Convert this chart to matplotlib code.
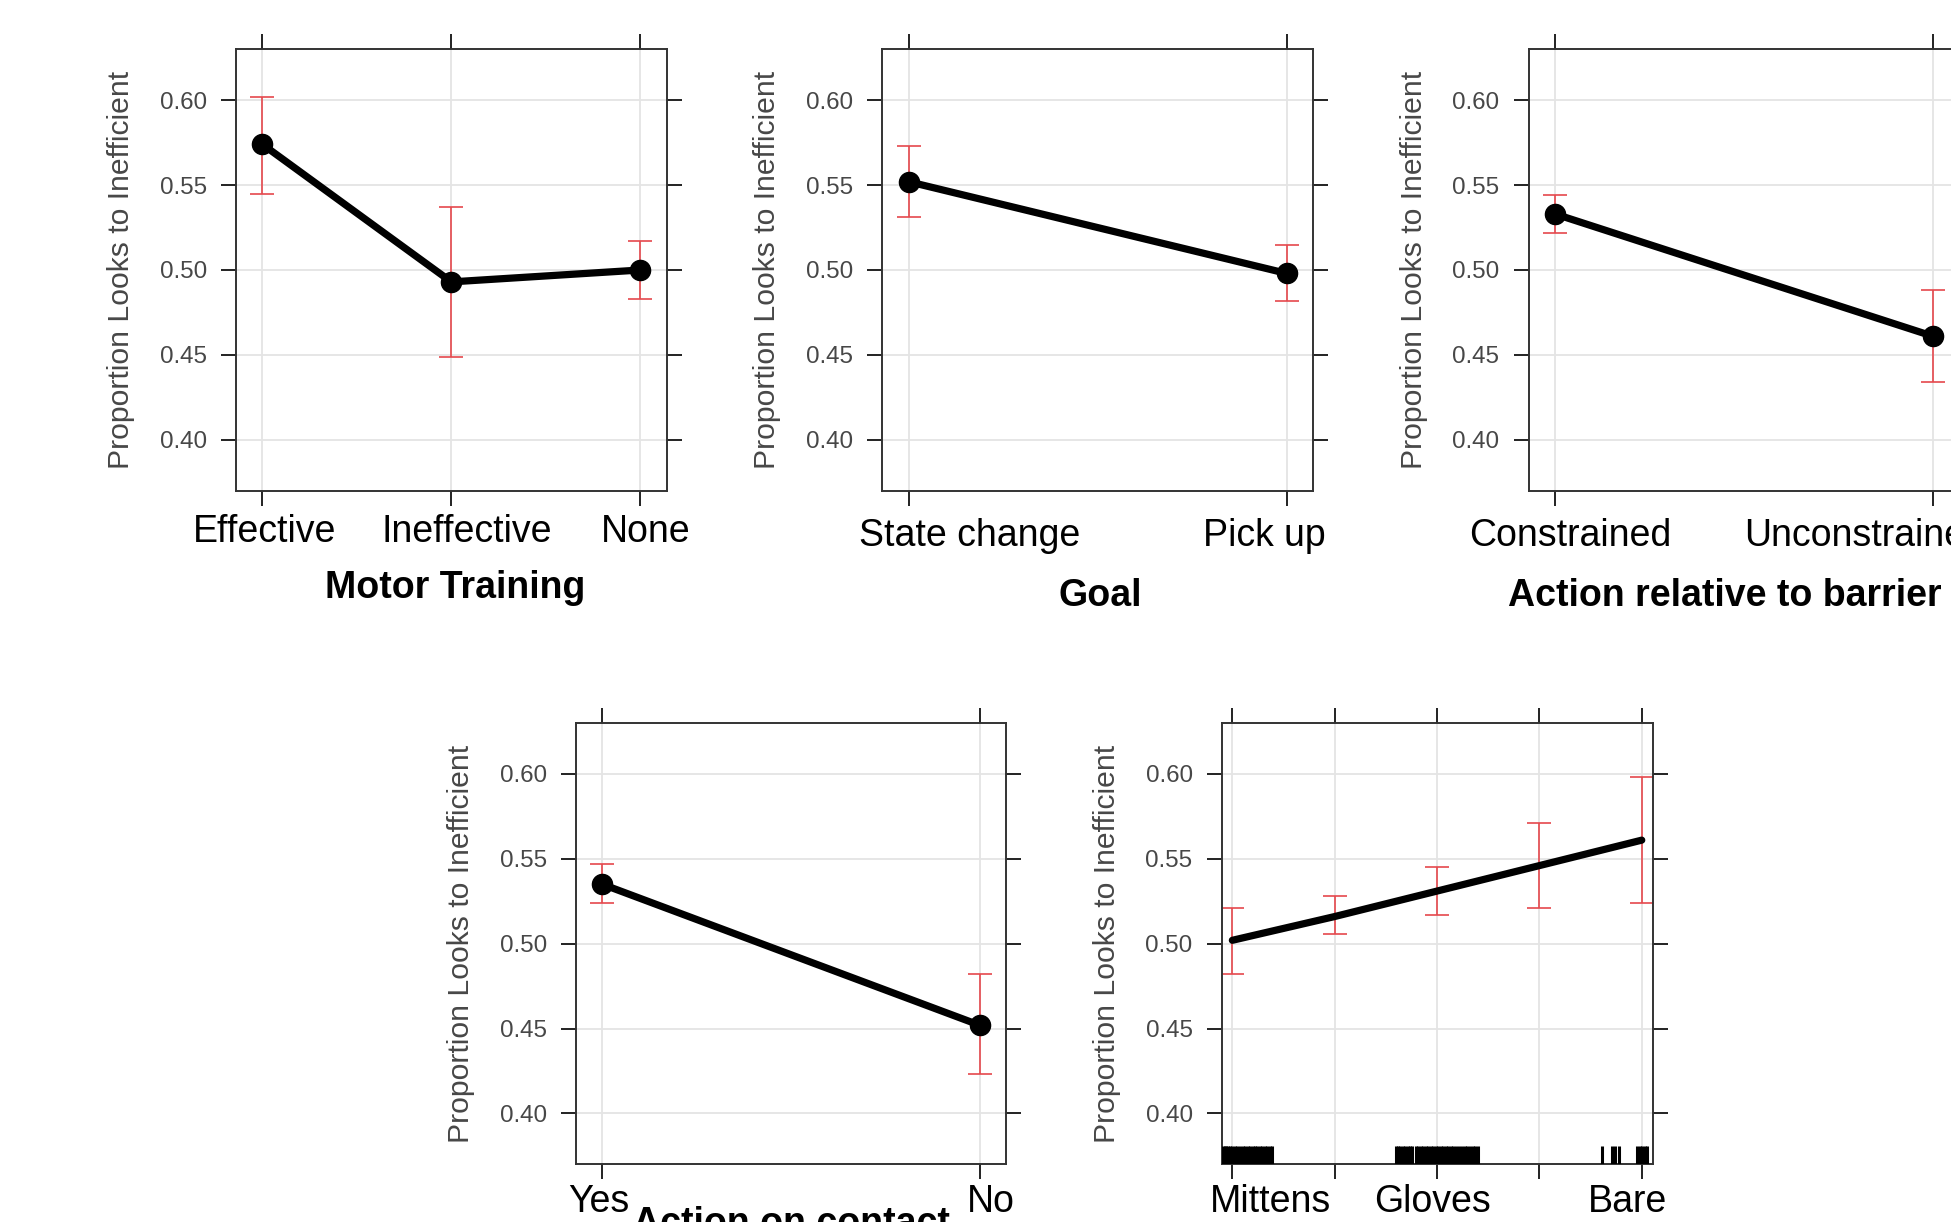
import matplotlib
matplotlib.use("Agg")
import matplotlib.pyplot as plt
from matplotlib import transforms

plt.rcParams['font.family'] = ['Liberation Sans', 'DejaVu Sans']

# ---------------- data ----------------
motor_levels = ["Effective", "Ineffective", "None"]
motor_fit = [0.574, 0.493, 0.500]
motor_lower = [0.545, 0.449, 0.483]
motor_upper = [0.602, 0.537, 0.517]

goal_levels = ["State change", "Pick up"]
goal_fit = [0.552, 0.498]
goal_lower = [0.531, 0.482]
goal_upper = [0.573, 0.515]

barrier_levels = ["Constrained", "Unconstrained"]
barrier_fit = [0.533, 0.461]
barrier_lower = [0.522, 0.434]
barrier_upper = [0.544, 0.488]

contact_levels = ["Yes", "No"]
contact_fit = [0.535, 0.452]
contact_lower = [0.524, 0.423]
contact_upper = [0.547, 0.482]

hand_x = [0, 1, 2, 3, 4]
hand_fit = [0.502, 0.516, 0.531, 0.546, 0.561]
hand_lower = [0.482, 0.506, 0.517, 0.521, 0.524]
hand_upper = [0.521, 0.528, 0.545, 0.571, 0.598]
hand_labels = ["Mittens", "Gloves", "Bare"]
hand_rug = [-0.09, -0.07, -0.06, -0.04, -0.02, 0.00, 0.03, 0.05, 0.07, 0.10,
            0.12, 0.15, 0.17, 0.20, 0.22, 0.24, 0.27, 0.29, 0.32, 0.34, 0.37, 0.39,
            1.60, 1.62, 1.64, 1.67, 1.69, 1.72, 1.74, 1.76, 1.79, 1.81, 1.84, 1.86,
            1.89, 1.91, 1.94, 1.96, 1.99, 2.01, 2.04, 2.06, 2.09, 2.11, 2.14, 2.16,
            2.19, 2.21, 2.24, 2.27, 2.29, 2.32, 2.35, 2.37, 2.40,
            3.61, 3.71, 3.74, 3.78, 3.95, 3.98, 4.00, 4.03, 4.05]

y_ticks = [0.40, 0.45, 0.50, 0.55, 0.60]
y_label = "Proportion Looks to Inefficient"

# ---------------- style ----------------
FW, FH = 1951, 1222
RED = "#E5484D"
GRID = "#E4E4E4"
GRAY_TXT = "#474747"

fig = plt.figure(figsize=(FW / 100, FH / 100), dpi=100)


def px_axes(left, top, width, height):
    return fig.add_axes([left / FW, (FH - top - height) / FH, width / FW, height / FH])


def style_axes(ax, xticks, xlim, label_pos, labels, xlabel, label_pad, xlabel_xy):
    ax.set_ylim(0.37, 0.63)
    ax.set_xlim(*xlim)
    ax.set_yticks(y_ticks)
    ax.set_yticklabels(["%.2f" % v for v in y_ticks])
    ax.set_xticks(xticks)
    ax.set_xticklabels([])
    ax.set_xticks(label_pos, minor=True)
    ax.set_xticklabels(labels, minor=True, fontsize=27, color="black")
    ax.tick_params(axis="x", which="major", direction="out", length=11, width=1.4,
                   top=True, bottom=True, labelbottom=False, color="#222222")
    ax.tick_params(axis="x", which="minor", length=0, pad=label_pad)
    ax.tick_params(axis="y", which="major", direction="out", length=11, width=1.4,
                   left=True, right=True, labelleft=True, labelright=False,
                   labelsize=17.4, labelcolor=GRAY_TXT, pad=10, color="#222222")
    ax.grid(True, which="major", color=GRID, lw=1.3)
    ax.set_axisbelow(True)
    for s in ax.spines.values():
        s.set_color("#333333")
        s.set_linewidth(1.4)
    ax.set_ylabel(y_label, fontsize=21.7, color=GRAY_TXT)
    ax.yaxis.set_label_coords(-0.267, 0.5)
    ax.yaxis.label.set_verticalalignment("center")
    if xlabel:
        ax.set_xlabel(xlabel, fontsize=27, fontweight="bold")
        ax.xaxis.set_label_coords(*xlabel_xy)


def effect_panel(ax, levels, fit, lower, upper):
    xs = list(range(len(levels)))
    yerr = [[f - lo for f, lo in zip(fit, lower)], [up - f for f, up in zip(fit, upper)]]
    ax.errorbar(xs, fit, yerr=yerr, fmt="none", ecolor=RED, elinewidth=1.2,
                capsize=8.3, capthick=1.2, zorder=2)
    ax.plot(xs, fit, color="black", lw=5.2, marker="o", ms=14.5, zorder=3,
            solid_capstyle="round")


W, H = 430.7, 441.4

# panel 1: Motor Training
ax1 = px_axes(236.0, 49.3, W, H)
effect_panel(ax1, motor_levels, motor_fit, motor_lower, motor_upper)
style_axes(ax1, [0, 1, 2], (-0.14, 2.14), [0.01, 1.08, 2.03], motor_levels,
           "Motor Training", 16.5, (0.51, -0.179))

# panel 2: Goal
ax2 = px_axes(882.3, 49.3, W, H)
effect_panel(ax2, goal_levels, goal_fit, goal_lower, goal_upper)
style_axes(ax2, [0, 1], (-0.07, 1.07), [0.16, 0.94], goal_levels,
           "Goal", 19.5, (0.505, -0.197))

# panel 3: Action relative to barrier
ax3 = px_axes(1528.6, 49.3, W, H)
effect_panel(ax3, barrier_levels, barrier_fit, barrier_lower, barrier_upper)
style_axes(ax3, [0, 1], (-0.07, 1.07), [0.04, 0.82], barrier_levels,
           "Action relative to barrier", 19.5, (0.456, -0.197))

# panel 4: Action on contact
ax4 = px_axes(576.0, 723.0, 430.0, H)
effect_panel(ax4, contact_levels, contact_fit, contact_lower, contact_upper)
style_axes(ax4, [0, 1], (-0.07, 1.07), [-0.01, 1.03], contact_levels,
           "Action on contact", 14, (0.50, -0.095))

# panel 5: hand covering (continuous)
ax5 = px_axes(1221.7, 723.0, 431.0, H)
yerr5 = [[f - lo for f, lo in zip(hand_fit, hand_lower)],
         [up - f for f, up in zip(hand_fit, hand_upper)]]
ax5.errorbar(hand_x, hand_fit, yerr=yerr5, fmt="none", ecolor=RED, elinewidth=1.2,
             capsize=8.3, capthick=1.2, zorder=2)
ax5.plot(hand_x, hand_fit, color="black", lw=5.2, zorder=3, solid_capstyle="round")
rug_tr = transforms.blended_transform_factory(ax5.transData, ax5.transAxes)
ax5.vlines(hand_rug, 0, 0.042, transform=rug_tr, color="black", lw=2.2, zorder=4)
style_axes(ax5, hand_x, (-0.104, 4.107), [0.37, 1.96, 3.86], hand_labels,
           None, 14, None)

fig.savefig("out.png", dpi=100, facecolor="white")
